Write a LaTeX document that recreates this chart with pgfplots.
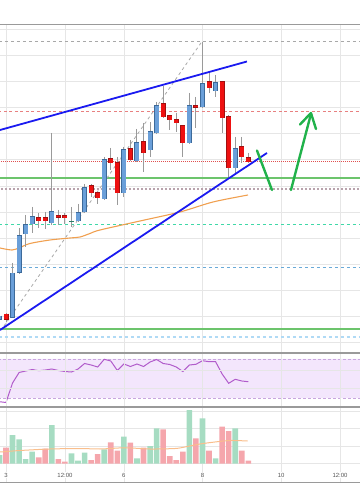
\documentclass[border=0pt]{standalone}
\usepackage{pgfplots}
\pgfplotsset{compat=1.18}
\usepackage{pgfplotstable}
\usepackage{fontspec}
\setmainfont{Liberation Sans}

\definecolor{gridc}{HTML}{E6E6E6}
\definecolor{panel}{HTML}{9A9A9A}
\definecolor{upfill}{HTML}{6A9FD9}
\definecolor{updraw}{HTML}{3D6A9A}
\definecolor{dnfill}{HTML}{EE1111}
\definecolor{dndraw}{HTML}{A01010}
\definecolor{dojic}{HTML}{2E7D6A}
\definecolor{wick}{HTML}{9A9A9A}
\definecolor{trend}{HTML}{1A1AF0}
\definecolor{lvgreen}{HTML}{6CC46C}
\definecolor{arrowgreen}{HTML}{21B24B}
\definecolor{maorange}{HTML}{F0A050}
\definecolor{rsiline}{HTML}{B15CCB}
\definecolor{rsiband}{HTML}{F3E6FC}
\definecolor{rsidash}{HTML}{C9A6DF}
\definecolor{volg}{HTML}{A6DCC2}
\definecolor{volr}{HTML}{F5A6AC}
\definecolor{volma}{HTML}{F9BE8C}
\definecolor{lvgray}{HTML}{A8A8A8}
\definecolor{lvred}{HTML}{E88080}
\definecolor{lvreddot}{HTML}{E05050}
\definecolor{lvmauve}{HTML}{B8A2AC}
\definecolor{lvteal}{HTML}{40D8A8}
\definecolor{lvblue}{HTML}{6AAAD8}
\definecolor{lvlblue}{HTML}{B0DAF5}
\definecolor{labelc}{HTML}{555555}

% candles: i, body top, body bottom, wick top, wick bottom (chart pixel rows)
\pgfplotstableread{
i top bot wt wb
-1 316 319 314 321
1 273 317 263 318
2 236 272 228 274
3 225 234 215 247
4 217 224 207 233
7 212 223 133 225
11 213 221 204 222
12 188 212 184 213
15 160 199 157 200
18 150 193 147 197
20 143 161 129 162
22 132 150 122 157
23 106 133 102 134
28 106 143 93 144
30 84 107 42 108
32 83 91 75 97
35 149 168 137 173
}\upData

\pgfplotstableread{
i top bot wt wb
0 314 319 313 322
5 218 221 213 228
6 218 221 212 229
8 216 217.5 210 225
9 216 218 213 224
13 186 193 184 197
14 193 198 192 204
16 159 163 148 170
17 163 193 157 205
19 149 160 140 161
21 142 153 123 172
24 104 117 86 118
25 116 120 115 130
26 120 123 113 132
27 126 143 125 157
29 106 107.5 97 128
31 82 88 73 93
33 82 118 81 133
34 117 168 115 177
36 147 157 137 163
37 158 162 153 163
}\dnData

\pgfplotstableread{
i top bot wt wb
10 221 222.5 207 227
}\dojiData

\pgfplotstableread{
i r
-1 401.7
0 402.5
1 383
2 372.5
3 371
4 369.5
5 370.7
6 370
7 369
8 370.5
9 371.5
10 372
11 369
12 363.5
13 365
14 367
15 359.3
16 361
17 370.5
18 364
19 366.5
20 364
21 366.5
22 362
23 359.5
24 363.5
25 364.5
26 367
27 371.5
28 365
29 364.3
30 360.7
31 361.7
32 361.7
33 374
34 383.3
35 379.3
36 381
37 381.7
}\rsiData

\pgfplotstableread{
i h
-1 8.5
1 28.5
2 24.2
3 4.5
4 11.8
7 38.5
10 10.2
11 2.8
12 10.8
15 14.2
18 26.8
20 5.2
22 17.5
23 35.2
28 53.5
30 45.2
32 5.2
35 35.2
}\volUp

\pgfplotstableread{
i h
0 15.8
5 6.2
6 15
8 4.5
9 2
13 3.5
14 9.5
16 21.2
17 12.8
19 20.8
21 15.8
24 34.2
25 7.5
26 3.5
27 11.8
29 25.2
31 12.8
33 36.8
34 32.5
36 12.8
37 2.8
}\volDn

\pgfplotsset{
  panelaxis/.style={
    scale only axis, width=360bp,
    xmin=-0.916, xmax=54.05,
    axis line style={draw=none},
    xtick={0,9,18,30,42,51},
    major tick length=0pt,
    yticklabels={},
    grid=major, grid style={draw=gridc, line width=0.7bp},
    clip mode=individual,
  },
  barstyle/.style 2 args={draw=none, mark=none, forget plot,
    error bars/.cd, y dir=plus, y explicit, error mark=none,
    error bar style={line width=#1, draw=#2, solid}},
}

\begin{document}
\begin{tikzpicture}
\useasboundingbox (0,0) rectangle (360bp,504bp);

% ---------------- main price panel ----------------
\begin{axis}[panelaxis,
  at={(0,151bp)}, anchor=south west, height=328bp,
  ymin=25, ymax=353, y dir=reverse,
  xticklabels={},
  ytick={29.3,55.4,81.5,107.6,133.7,159.8,185.9,212,238.1,264.2,290.3,316.4,342.5},
]
% horizontal levels
\addplot[lvgray, line width=0.8bp, dash pattern=on 3bp off 3bp] coordinates {(-2,41.5) (56,41.5)};
\addplot[lvred, line width=0.8bp, dash pattern=on 3bp off 2.5bp] coordinates {(-2,111) (56,111)};
\addplot[lvreddot, line width=0.8bp, dash pattern=on 1bp off 1bp] coordinates {(-2,161) (56,161)};
\addplot[lvgreen, line width=1.5bp] coordinates {(-2,178) (56,178)};
\addplot[lvmauve, line width=1.5bp, dash pattern=on 2bp off 2bp] coordinates {(-2,189) (56,189)};
\addplot[lvteal, line width=0.8bp, dash pattern=on 3bp off 3bp] coordinates {(-2,224) (56,224)};
\addplot[lvblue, line width=0.8bp, dash pattern=on 3bp off 3bp] coordinates {(-2,267) (56,267)};
\addplot[lvgreen, line width=1.5bp] coordinates {(-2,329) (56,329)};
\addplot[lvlblue, line width=1.5bp, dash pattern=on 3bp off 3bp] coordinates {(-2,337) (56,337)};

% moving average
\addplot[maorange, line width=1.1bp, smooth] coordinates {
(-0.92,248) (0.92,250) (2.14,247.5) (3.66,243.5) (6.72,240) (9.77,238) (11.3,237)
(12.82,233.5) (14.35,230) (20.46,221) (26.56,212) (31.6,202) (36.95,195)};

% gray dashed diagonal
\addplot[lvgray, line width=0.8bp, dash pattern=on 3bp off 3bp] coordinates {(-0.305,326) (29.92,41.5)};

% wicks
\addplot[barstyle={1bp}{wick}] table[x=i, y=wt, y error expr=\thisrow{wb}-\thisrow{wt}] {\upData};
\addplot[barstyle={1bp}{wick}] table[x=i, y=wt, y error expr=\thisrow{wb}-\thisrow{wt}] {\dnData};
\addplot[barstyle={1bp}{wick}] table[x=i, y=wt, y error expr=\thisrow{wb}-\thisrow{wt}] {\dojiData};

% bodies: outline then fill
\addplot[barstyle={5bp}{updraw}] table[x=i, y expr=\thisrow{top}-0.5, y error expr=\thisrow{bot}-\thisrow{top}+1] {\upData};
\addplot[barstyle={3.8bp}{upfill}] table[x=i, y=top, y error expr=\thisrow{bot}-\thisrow{top}] {\upData};
\addplot[barstyle={5bp}{dndraw}] table[x=i, y expr=\thisrow{top}-0.5, y error expr=\thisrow{bot}-\thisrow{top}+1] {\dnData};
\addplot[barstyle={3.8bp}{dnfill}] table[x=i, y=top, y error expr=\thisrow{bot}-\thisrow{top}] {\dnData};
\addplot[barstyle={5bp}{dojic}] table[x=i, y=top, y error expr=\thisrow{bot}-\thisrow{top}] {\dojiData};

% trend lines
\addplot[trend, line width=1.8bp] coordinates {(-0.916,130) (36.79,61.5)};
\addplot[trend, line width=1.8bp] coordinates {(-0.916,330) (39.85,153)};

% green arrows
\addplot[arrowgreen, line width=2.4bp, line cap=round] coordinates {(38.32,150.5) (40.61,190)};
\addplot[arrowgreen, line width=2.4bp, line cap=round] coordinates {(43.51,190) (46.56,114)};
\addplot[arrowgreen, line width=2.4bp, line cap=round, line join=round] coordinates {(44.89,124.5) (46.56,113) (47.33,129)};
\end{axis}

% ---------------- RSI panel ----------------
\begin{axis}[panelaxis,
  at={(0,97bp)}, anchor=south west, height=54bp,
  ymin=353, ymax=407, y dir=reverse,
  xticklabels={},
  ytick={370.7,388.3},
  axis on top,
]
\addplot[fill=rsiband, draw=none] coordinates {(-2,359) (56,359) (56,398) (-2,398) (-2,359)};
\addplot[rsidash, line width=0.7bp, dash pattern=on 3bp off 2bp] coordinates {(-2,359) (56,359)};
\addplot[rsidash, line width=0.7bp, dash pattern=on 3bp off 2bp] coordinates {(-2,398) (56,398)};
\addplot[rsiline, line width=1bp] table[x=i, y=r] {\rsiData};
\end{axis}

% ---------------- volume panel ----------------
\begin{axis}[panelaxis,
  at={(0,21bp)}, anchor=south west, height=76bp,
  ymin=-19.5, ymax=56.5,
  xticklabels={3,12:00,6,8,10,12:00},
  xticklabel style={font=\fontsize{6}{7}\selectfont, text=labelc, anchor=center, yshift=8bp, fill=white, inner sep=0.8bp},
  ytick={0,17.5,35.5,52.5},
]
\addplot[ybar, bar width=5.6bp, bar shift=0pt, fill=volg, draw=none] table[x=i, y=h] {\volUp};
\addplot[ybar, bar width=5.6bp, bar shift=0pt, fill=volr, draw=none] table[x=i, y=h] {\volDn};
\addplot[volma, line width=1bp, smooth] coordinates {
(-0.92,11.5) (2.14,13) (6.72,14.5) (11.3,15) (14.35,14.5) (18.2,15.7) (22,14.5)
(25.8,15) (27.3,16.5) (29.6,19.5) (31.9,21.5) (34.2,23) (36.9,22.5)};
\end{axis}

% panel separators
\draw[panel, line width=1bp] (0,479bp) -- (360bp,479bp);
\draw[panel, line width=1.2bp] (0,151bp) -- (360bp,151bp);
\draw[panel, line width=1.2bp] (0,97bp) -- (360bp,97bp);
\draw[panel, line width=1bp] (0,21bp) -- (360bp,21bp);
\end{tikzpicture}
\end{document}
